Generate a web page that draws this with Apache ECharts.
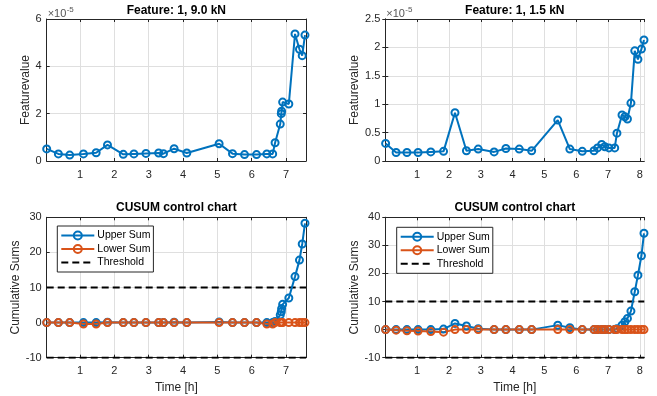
<!DOCTYPE html>
<html>
<head>
<meta charset="utf-8">
<script src="https://cdn.jsdelivr.net/npm/echarts@6/dist/echarts.min.js"></script>
<style>
  html, body { margin: 0; padding: 0; background: #fff; }
  #c { width: 657px; height: 396px; }
</style>
</head>
<body>
<div id="c"></div>
<script>
// ---- Run 1: 9.0 kN ----
const timeA  = [0.03,0.37,0.70,1.10,1.47,1.80,2.26,2.57,2.92,3.29,3.43,3.74,4.11,5.05,5.44,5.79,6.14,6.44,6.61,6.68,6.83,6.86,6.87,6.90,7.08,7.26,7.39,7.47,7.55];
// feature values in units of 1e-5
const featA  = [0.51,0.30,0.25,0.30,0.35,0.68,0.28,0.30,0.32,0.34,0.31,0.52,0.34,0.73,0.31,0.27,0.27,0.30,0.30,0.77,1.56,2.00,2.10,2.49,2.41,5.37,4.72,4.45,5.32];
const upperA = [0,0,0,0,0,0.1,0,0,0,0,0,0.1,0,0.2,0,0,0,0,0,0.3,2.2,3.1,4.0,5.2,7.0,13.1,17.8,22.4,28.3];
const lowerA = [0,0,0,-0.4,-0.4,0,0,0,0,0,0,0,0,0,0,0,0,-0.4,-0.4,0,0,0,0,0,0,0,0,0,0];

// ---- Run 2: 1.5 kN ----
const timeB  = [0.01,0.34,0.68,1.03,1.43,1.83,2.19,2.55,2.92,3.42,3.79,4.21,4.60,5.42,5.80,6.19,6.56,6.67,6.80,6.90,7.03,7.21,7.28,7.44,7.53,7.61,7.72,7.84,7.94,8.05,8.13];
const featB  = [0.31,0.15,0.15,0.15,0.16,0.17,0.85,0.18,0.21,0.16,0.22,0.21,0.18,0.72,0.21,0.17,0.18,0.23,0.29,0.25,0.23,0.23,0.49,0.81,0.78,0.74,1.02,1.94,1.79,1.97,2.13];
const upperB = [0,0,0,0,0,0.2,2.2,1.3,0.3,0,0,0,0,1.6,0.7,0,0,0,0,0,0,0,0.3,1.6,2.8,4.0,6.6,13.5,19.4,26.3,34.3];
const lowerB = [0,-0.2,-0.4,-0.5,-0.7,-0.9,0,0,0,0,0,0,0,0,0,0,0,0,0,0,0,0,0,0,0,0,0,0,0,0,0];

const threshold = 10;

// axis ranges and tick values
const xRangeA = [0.03, 7.58];
const xRangeB = [0.00, 8.14];
const yTicksFeatA  = [0, 2, 4, 6];
const yTicksFeatB  = [0, 0.5, 1, 1.5, 2, 2.5];
const yTicksCusumA = [-10, 0, 10, 20, 30];
const yTicksCusumB = [-10, 0, 10, 20, 30, 40];

const titles = ['Feature: 1, 9.0 kN', 'Feature: 1, 1.5 kN', 'CUSUM control chart', 'CUSUM control chart'];

const FONT = "'Liberation Sans', Arial, Helvetica, sans-serif";
const BLUE = '#0072BD', ORANGE = '#D95319', AX = '#262626';

const grids = [
  { left: 46.7,  top: 19,    width: 259.3, height: 142 },
  { left: 385.3, top: 19,    width: 259,   height: 142 },
  { left: 46.7,  top: 217.3, width: 259.3, height: 140.4 },
  { left: 385.3, top: 217.3, width: 259,   height: 140.4 }
];

const zip = (xs, ys) => xs.map((x, i) => [x, ys[i]]);

const xAxes = [], yAxes = [];
function addAxes(gi, xr, yt, yName, nameGap, xName) {
  const xBase = {
    gridIndex: gi, type: 'value', min: xr[0], max: xr[1],
    minInterval: 1, maxInterval: 1, splitNumber: 8,
    axisLine: { show: true, onZero: false, lineStyle: { color: AX, width: 1 } },
    axisTick: { show: true, inside: true, length: 3, lineStyle: { color: AX } }
  };
  xAxes.push(Object.assign({}, xBase, {
    position: 'bottom',
    name: xName || '', nameLocation: 'middle', nameGap: 24,
    nameTextStyle: { color: AX, fontSize: 12, fontFamily: FONT },
    axisLabel: {
      show: true, color: AX, fontSize: 11, fontFamily: FONT, margin: 8,
      showMinLabel: false, showMaxLabel: false,
      formatter: v => (Math.abs(v - Math.round(v)) < 1e-6 ? String(Math.round(v)) : '')
    },
    splitLine: { show: true, lineStyle: { color: '#dfdfdf', width: 1 } }
  }));
  xAxes.push(Object.assign({}, xBase, {
    position: 'top', axisLabel: { show: false }, splitLine: { show: false }
  }));
  const step = yt[1] - yt[0];
  const yBase = {
    gridIndex: gi, type: 'value', min: yt[0], max: yt[yt.length - 1], interval: step,
    axisLine: { show: true, lineStyle: { color: AX, width: 1 } },
    axisTick: { show: true, inside: true, length: 3, lineStyle: { color: AX } }
  };
  yAxes.push(Object.assign({}, yBase, {
    position: 'left',
    name: yName, nameLocation: 'middle', nameGap: nameGap, nameRotate: 90,
    nameTextStyle: { color: AX, fontSize: 12, fontFamily: FONT },
    axisLabel: { color: AX, fontSize: 11, fontFamily: FONT, margin: 5 },
    splitLine: { show: true, lineStyle: { color: '#dfdfdf', width: 1 } }
  }));
  yAxes.push(Object.assign({}, yBase, {
    position: 'right', axisLabel: { show: false }, splitLine: { show: false }
  }));
}
addAxes(0, xRangeA, yTicksFeatA, 'Featurevalue', 15);
addAxes(1, xRangeB, yTicksFeatB, 'Featurevalue', 22);
addAxes(2, xRangeA, yTicksCusumA, 'Cumulative Sums', 24, 'Time [h]');
addAxes(3, xRangeB, yTicksCusumB, 'Cumulative Sums', 22, 'Time [h]');

function markerLine(name, color, gi, data) {
  return {
    name: name, type: 'line', xAxisIndex: gi * 2, yAxisIndex: gi * 2,
    data: data, symbol: 'circle', symbolSize: 7, showSymbol: true,
    lineStyle: { color: color, width: 2 },
    itemStyle: { color: 'rgba(255,255,255,0)', borderColor: color, borderWidth: 2 },
    emphasis: { disabled: true }, animation: false, clip: false, z: 3
  };
}
function thresholdLine(gi, xr, level) {
  return {
    name: 'Threshold', type: 'line', xAxisIndex: gi * 2, yAxisIndex: gi * 2,
    data: [[xr[0], level], [xr[1], level]], symbol: 'none',
    lineStyle: { color: '#000', width: 2, type: [7, 4] },
    itemStyle: { color: '#000' },
    emphasis: { disabled: true }, animation: false, z: 2
  };
}

const series = [
  markerLine('Feature 9.0 kN', BLUE, 0, zip(timeA, featA)),
  markerLine('Feature 1.5 kN', BLUE, 1, zip(timeB, featB)),
  markerLine('Upper Sum', BLUE, 2, zip(timeA, upperA)),
  markerLine('Lower Sum', ORANGE, 2, zip(timeA, lowerA)),
  thresholdLine(2, xRangeA, threshold),
  thresholdLine(2, xRangeA, -threshold),
  markerLine('Upper Sum', BLUE, 3, zip(timeB, upperB)),
  markerLine('Lower Sum', ORANGE, 3, zip(timeB, lowerB)),
  thresholdLine(3, xRangeB, threshold),
  thresholdLine(3, xRangeB, -threshold)
];

function legendAt(left, top) {
  return {
    data: [
      'Upper Sum',
      'Lower Sum',
      { name: 'Threshold', itemStyle: { color: 'rgba(0,0,0,0)', borderWidth: 0, opacity: 0 } }
    ],
    orient: 'vertical', left: left, top: top,
    itemWidth: 33, itemHeight: 10, itemGap: 2.5,
    padding: [4, 3, 4, 3],
    backgroundColor: '#fff', borderColor: AX, borderWidth: 1,
    textStyle: { color: '#000', fontSize: 10.5, fontFamily: FONT, padding: [0, 0, 0, -2], lineHeight: 11 },
    selectedMode: false
  };
}

const graphic = [];
const cx = g => g.left + g.width / 2;
titles.forEach((t, i) => {
  graphic.push({
    type: 'text', x: cx(grids[i]), y: i < 2 ? 10.5 : 207.5,
    style: { text: t, textAlign: 'center', textVerticalAlign: 'middle',
             font: "bold 12px " + FONT, fill: '#000' }
  });
});
[grids[0], grids[1]].forEach(g => {
  graphic.push({ type: 'text', x: g.left + 1, y: 13.8,
    style: { text: '×10', textAlign: 'left', textVerticalAlign: 'middle', font: "11px " + FONT, fill: '#555' } });
  graphic.push({ type: 'text', x: g.left + 20, y: 9.5,
    style: { text: '-5', textAlign: 'left', textVerticalAlign: 'middle', font: "8px " + FONT, fill: '#555' } });
});

const chart = echarts.init(document.getElementById('c'), null, { renderer: 'canvas' });
chart.setOption({
  animation: false,
  backgroundColor: '#fff',
  grid: grids,
  xAxis: xAxes,
  yAxis: yAxes,
  legend: [legendAt(57.3, 226), legendAt(396.7, 227.3)],
  series: series,
  graphic: graphic
});
</script>
</body>
</html>
